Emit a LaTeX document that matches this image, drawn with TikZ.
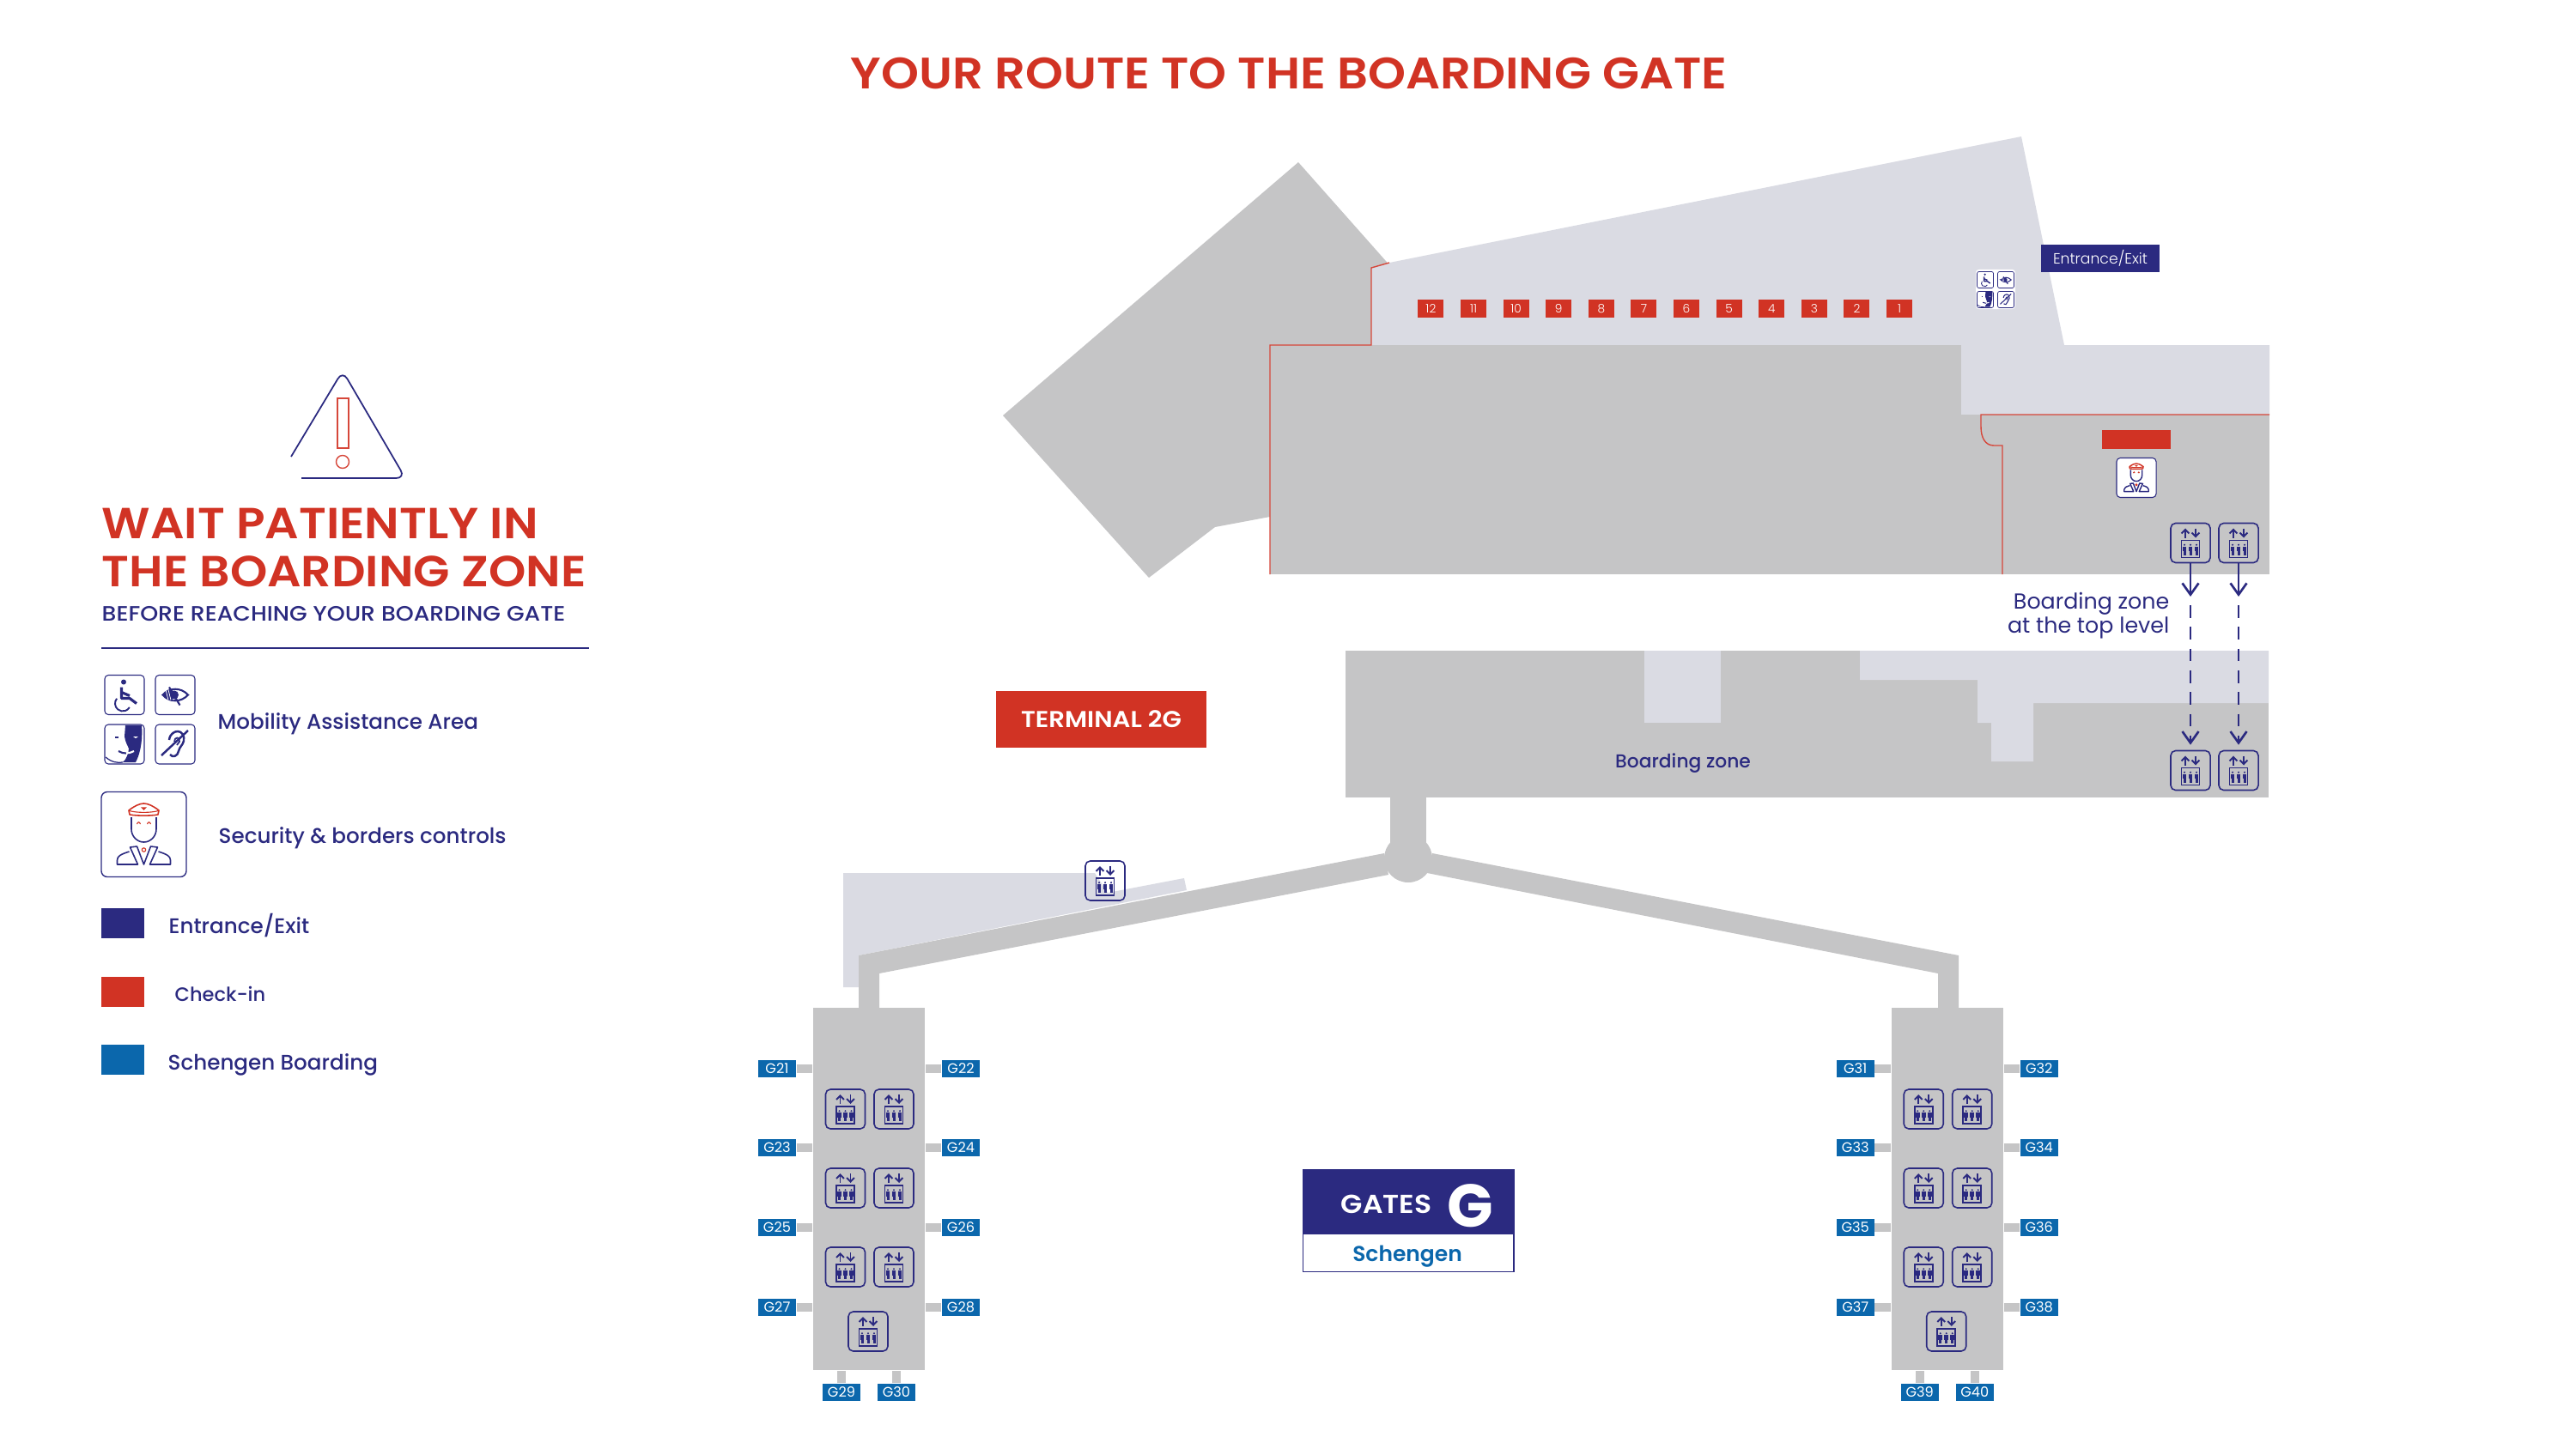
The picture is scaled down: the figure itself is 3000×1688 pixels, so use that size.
\documentclass[tikz,border=0pt]{standalone}
\usepackage{fontspec}
\setmainfont{Poppins}
\newfontfamily\semifont{Poppins SemiBold}
\newfontfamily\semiwide[FakeStretch=1.09]{Poppins SemiBold}
\newfontfamily\medfont{Poppins Medium}
\newfontfamily\medwide[FakeStretch=1.1]{Poppins Medium}
\newfontfamily\lightfont{Poppins Light}
\usetikzlibrary{arrows.meta}
\definecolor{navy}{HTML}{2B2A80}
\definecolor{redmark}{HTML}{D13324}
\definecolor{schengen}{HTML}{0B67AC}
\definecolor{darkzone}{HTML}{C5C5C6}
\definecolor{lightzone}{HTML}{DADBE3}
\def\fs#1{\fontsize{#1}{#1}\selectfont}
\def\lift(#1)(#2){\node[liftbox] (#1) at (#2) {}; \pic at (#2) {liftglyph};}
\tikzset{
	liftbox/.style={draw=navy, line width=0.45pt, rounded corners=1.6pt, minimum size=0.46cm, inner sep=0},
	iconbox/.style={draw=navy, line width=0.3pt, fill=white, rounded corners=1.2pt, minimum size=0.46cm, inner sep=0},
	zone/.style={fill=darkzone, inner sep=0},
	gatebox/.style={fill=schengen, text=white, minimum width=0.44cm, minimum height=0.2cm, inner sep=0, font=\fs{4.6}},
	gatebar/.style={darkzone, line width=0.1cm},
	checkbox/.style={fill=redmark, text=white, minimum width=0.3cm, minimum height=0.21cm, inner sep=0, font=\lightfont\fs{3.9}},
	legendsq/.style={minimum width=0.495cm, minimum height=0.35cm, inner sep=0},
	legendtext/.style={anchor=base west, inner sep=0, text=navy, font=\medfont\fs{7}},
	liftarrow/.style={navy, line width=0.75pt, -{Straight Barb[length=3.8pt,width=5.4pt]}},
	redline/.style={draw=redmark!90!white, line width=0.4pt},
	liftglyph/.pic={
		\draw[navy, line width=0.55pt, -{Straight Barb[length=1.3pt,width=2.5pt]}] (-6,-6) -- (-6,-17);
		\draw[navy, line width=0.55pt, -{Straight Barb[length=1.3pt,width=2.5pt]}] (6,-17) -- (6,-6);
		\draw[navy, line width=0.5pt] (-10.5,-3) rectangle (10.5,17);
		\foreach \px in {-7,0,7}{
			\fill[navy] (\px,2.2) circle (1.2);
			\fill[navy] (\px-2.3,4.2) rectangle (\px+2.3,9.5);
			\fill[navy] (\px-1.5,9.5) rectangle (\px+1.5,14);
		}
	},
	wheelglyph/.pic={
		\fill[navy] (-1,-15) circle (3);
		\draw[navy, line width=#1, line join=round] (-3.5,-9) -- (-3.5,4) -- (6,4) -- (14,10);
		\draw[navy, line width=#1] (-3.5,-3) -- (6,1);
		\draw[navy, line width=0.6*#1] (-8.9,4.2) arc (220:30:9);
	},
	eyeglyph/.pic={
		\draw[navy, line width=#1] (-14.5,0) .. controls (-7,-9) and (7,-9) .. (15,0) .. controls (7,9) and (-7,9) .. cycle;
		\fill[navy] (-14.5,0) .. controls (-9,-6) and (-5,-7) .. (-3,-7) -- (-3,7) .. controls (-5,7) and (-9,6) .. cycle;
		\foreach \hx in {-11,-8,-5}{
			\draw[white, line width=0.4*#1] (\hx,-6) -- (\hx+3,6);
		}
		\fill[navy] (-1,0) circle (5);
		\draw[navy, line width=#1] (-7,-9) -- (5.5,12);
	},
	faceglyph/.pic={
		\fill[navy] (1,-22) -- (20,-22) .. controls (21,-10) and (20,8) .. (13,21) -- (-2,21) .. controls (2,18) and (5,10) .. (5,5) .. controls (4,2) and (1,-2) .. (0,-9) -- cycle;
		\fill[white] (10,-9) -- (16,-9) -- (13,-7) -- cycle;
		\draw[navy, line width=#1] (-11,-8) -- (-7,-8);
		\draw[navy, line width=#1] (-7,8) .. controls (-4,10) and (-1,10.5) .. (2,10.5);
		\draw[white, line width=#1] (2,10.5) .. controls (5,10.5) and (8,9.5) .. (11,8);
		\draw[navy, line width=0.6*#1] (-22,15) .. controls (-15,21) and (-8,22) .. (-2,21);
	},
	earglyph/.pic={
		\draw[navy, line width=#1] (-7,-5) .. controls (-6,-13) and (0,-15) .. (3,-15) .. controls (8,-15) and (11,-10) .. (10,-4) .. controls (9,1) and (5,3) .. (4,8) .. controls (3,14) and (-3,16) .. (-6,12);
		\draw[navy, line width=0.7*#1] (-1,-3) .. controls (-1,-9) and (6,-9) .. (5,-3) -- (2,1);
		\draw[navy, line width=#1] (15,-16) -- (-16,13);
	},
	guardglyph/.pic={
		\draw[redmark, line width=#1, line join=round] (-17.5,-28) .. controls (-11,-33) and (-5,-36) .. (0,-36) .. controls (5,-36) and (11,-33) .. (17.5,-28) -- (16.5,-23) .. controls (8,-21.5) and (-8,-21.5) .. (-16.5,-23) -- cycle;
		\draw[redmark, line width=0.7*#1] (-17,-27.5) .. controls (-8,-25) and (8,-25) .. (17,-27.5);
		\draw[redmark, line width=0.7*#1] (-2,-31) -- (2,-31) -- (0,-29) -- cycle;
		\draw[redmark, line width=0.7*#1] (-8,-12) .. controls (-7,-15) and (-5,-15) .. (-4,-12);
		\draw[redmark, line width=0.7*#1] (4,-12) .. controls (5,-15) and (7,-15) .. (8,-12);
		\draw[redmark, line width=0.7*#1] (0,18) circle (2.2);
		\draw[navy, line width=#1] (-14.5,-20) -- (-14.5,-6) .. controls (-14.5,2) and (-8,9) .. (0,9) .. controls (8,9) and (14.5,2) .. (14.5,-6) -- (14.5,-20);
		\draw[navy, line width=#1, line join=round] (-17,20) .. controls (-26,23) and (-31,25) .. (-31,30) -- (-31,35) -- (-7,35) -- (-16,15) -- (-8,14) -- (0,35) -- (8,14) -- (16,15) -- (7,35) -- (31,35) -- (31,30) .. controls (31,25) and (26,23) .. (17,20);
	},
}
\begin{document}
\begin{tikzpicture}[x=0.01cm, y=-0.01cm]
	\useasboundingbox (0,0) rectangle (3000,1688);

	%%%%% TITLE %%%%%
	\node[anchor=base, inner sep=0, text=redmark, font=\semiwide\fs{14.6}] (title) at (1501,104) {YOUR ROUTE TO THE BOARDING GATE};

	%%%%% LEGEND %%%%%
	\draw[navy, line width=0.5pt, rounded corners=3pt] (339,532) -- (399,432) -- (472,557) -- (351,557);
	\draw[redline] (393,464) rectangle (406,522);
	\draw[redline] (399,538) circle (7.5);

	\node[anchor=base west, inner sep=0, text=redmark, font=\semiwide\fs{14.4}] (waitline) at (118,627) {WAIT PATIENTLY IN};
	\node[anchor=base west, inner sep=0, text=redmark, font=\semiwide\fs{14.4}] (zoneline) at (118,683) {THE BOARDING ZONE};
	\node[anchor=base west, inner sep=0, text=navy, font=\medwide\fs{6.9}] (before) at (118,723) {BEFORE REACHING YOUR BOARDING GATE};
	\draw[navy, line width=0.7pt] (118,755) -- (686,755);

	\node[iconbox] (wheel) at (145,809.5) {};
	\node[iconbox] (eye) at (204,809.5) {};
	\node[iconbox] (face) at (145,867) {};
	\node[iconbox] (ear) at (204,867) {};
	\pic at (145,809.5) {wheelglyph=0.9pt};
	\pic at (204,809.5) {eyeglyph=0.6pt};
	\pic at (145,867) {faceglyph=0.6pt};
	\pic at (204,867) {earglyph=0.7pt};
	\node[legendtext] (mobility) at (253,849) {Mobility Assistance Area};

	\node[iconbox, minimum size=0.99cm, rounded corners=2pt, line width=0.4pt] (guard) at (167.5,972) {};
	\pic at (167.5,972) {guardglyph=0.45pt};
	\node[legendtext] (security) at (254,982) {Security \& borders controls};

	\node[legendsq, fill=navy] (sqentry) at (142.75,1075.5) {};
	\node[legendsq, fill=redmark] (sqcheck) at (142.75,1155.5) {};
	\node[legendsq, fill=schengen] (sqboard) at (142.75,1234.5) {};
	\node[legendtext] (txtentry) at (196,1087) {Entrance/Exit};
	\node[legendtext, font=\medfont\fs{6.4}] (txtcheck) at (203,1166) {Check-in};
	\node[legendtext] (txtboard) at (195,1246) {Schengen Boarding};

	%%%%% UPPER LEVEL %%%%%
	\fill[darkzone] (1512,189) -- (1621,312) -- (1597,402) -- (1479,602) -- (1415,614) -- (1338,673) -- (1168,484) -- cycle;
	\fill[lightzone] (1618,306) -- (2354,159) -- (2404,402) -- (2643,402) -- (2643,483) -- (2284,483) -- (2284,402) -- (1597,402) -- (1597,312) -- cycle;
	\fill[darkzone] (1479,402) rectangle (2284,669);
	\fill[darkzone] (2284,483) rectangle (2643,669);
	\draw[redline] (1618,306) -- (1597,312) -- (1597,402) -- (1479,402) -- (1479,669);
	\draw[redline] (2643,483) -- (2307,483) -- (2307,497) .. controls (2307,510) and (2312,519) .. (2322,519) -- (2332,519) -- (2332,669);

	\foreach \n in {1,...,12}{
		\node[checkbox] (check\n) at ({2212-(\n-1)*49.6},359.5) {\n};
	}
	\node[fill=redmark, minimum width=0.8cm, minimum height=0.22cm, inner sep=0] (checkbar) at (2488,512) {};
	\node[fill=navy, text=white, minimum width=1.38cm, minimum height=0.32cm, inner sep=0, font=\lightfont\fs{4.9}] (entrance) at (2446,301) {Entrance/Exit};

	\node[fill=white, rounded corners=1pt, minimum size=0.46cm, inner sep=0] (assist) at (2324,337) {};
	\begin{scope}[every node/.style={iconbox, minimum size=0.19cm, rounded corners=0.6pt, line width=0.2pt}]
		\node (wheelB) at (2312,326) {};
		\node (eyeB) at (2336,326) {};
		\node (faceB) at (2312,349) {};
		\node (earB) at (2336,349) {};
	\end{scope}
	\pic[scale=0.41] at (2312,326) {wheelglyph=0.4pt};
	\pic[scale=0.41] at (2336,326) {eyeglyph=0.3pt};
	\pic[scale=0.41] at (2312,349) {faceglyph=0.3pt};
	\pic[scale=0.41] at (2336,349) {earglyph=0.3pt};

	\node[iconbox] (guardB) at (2488,556.5) {};
	\pic[scale=0.46] at (2488,556.5) {guardglyph=0.4pt};

	%%%%% LOWER LEVEL %%%%%
	\fill[darkzone] (1567,758) rectangle (2642,929);
	\fill[lightzone] (1915,758) rectangle (2004,842);
	\fill[lightzone] (2166,758) -- (2642,758) -- (2642,819) -- (2368,819) -- (2368,887) -- (2319,887) -- (2319,842) -- (2303,842) -- (2303,792) -- (2166,792) -- cycle;
	\node[anchor=base, inner sep=0, text=navy, font=\medfont\fs{6.2}] (boardzone) at (1960,894) {Boarding zone};

	\node[anchor=base east, align=right, inner sep=0, text=navy, font=\fontsize{7.2}{7.7}\selectfont] (toplevel) at (2527,737) {Boarding zone\\at the top level};

	\lift(topA)(2551,632.5)
	\lift(topB)(2607,632.5)
	\lift(botA)(2551,897.5)
	\lift(botB)(2607,897.5)
	\coordinate (gapA) at (2551,705);
	\coordinate (gapB) at (2607,705);
	\draw[liftarrow, shorten >=0.1cm] (topA) -- (gapA);
	\draw[liftarrow, shorten >=0.1cm] (topB) -- (gapB);
	\draw[liftarrow, dash pattern=on 4.2pt off 3pt, shorten >=0.06cm] (gapA) -- (botA.north);
	\draw[liftarrow, dash pattern=on 4.2pt off 3pt, shorten >=0.06cm] (gapB) -- (botB.north);

	\node[fill=redmark, text=white, minimum width=2.45cm, minimum height=0.65cm, inner sep=0, font=\semiwide\fs{7.6}] (terminal) at (1282.5,838) {TERMINAL 2G};

	%%%%% BRIDGES %%%%%
	\fill[lightzone] (982,1017) -- (1275,1017) -- (1290,1040) -- (1379,1023) -- (1382,1037) -- (1000,1113) -- (1000,1150) -- (982,1150) -- cycle;
	\fill[darkzone] (1619,929) rectangle (1661,1000);
	\fill[darkzone] (1640,1000) circle (28);
	\fill[darkzone] (1612,994) -- (1000,1113) -- (1000,1174) -- (1024,1174) -- (1024,1134) -- (1617,1019) -- cycle;
	\fill[darkzone] (1668,994) -- (2281,1113) -- (2281,1174) -- (2257,1174) -- (2257,1134) -- (1662,1017) -- cycle;
	\lift(liftW)(1287,1026)

	%%%%% PIERS %%%%%
	\foreach \side/\dx/\gn in {L/0/20,R/12.55/30}{
		\begin{scope}[xshift=\dx cm]
			\node[zone, minimum width=1.3cm, minimum height=4.22cm] (pier\side) at (1012,1385) {};
			\foreach \i/\y in {1/1245,2/1337,3/1430,4/1523}{
				\pgfmathtruncatemacro\gl{\gn+2*\i-1}
				\pgfmathtruncatemacro\gr{\gn+2*\i}
				\node[gatebox] (g\gl) at (905,\y) {G\gl};
				\node[gatebox] (g\gr) at (1119,\y) {G\gr};
				\draw[gatebar] (g\gl.east) -- (g\gl.east -| pier\side.west);
				\draw[gatebar] (g\gr.west) -- (g\gr.west -| pier\side.east);
			}
			\pgfmathtruncatemacro\gl{\gn+9}
			\pgfmathtruncatemacro\gr{\gn+10}
			\node[gatebox] (g\gl) at (980,1622) {G\gl};
			\node[gatebox] (g\gr) at (1044,1622) {G\gr};
			\draw[gatebar] (g\gl.north) -- (g\gl.north |- pier\side.south);
			\draw[gatebar] (g\gr.north) -- (g\gr.north |- pier\side.south);
			\foreach \y in {1292,1384,1476}{
				\lift(a\side\y)(984.5,\y)
				\lift(b\side\y)(1041,\y)
			}
			\lift(c\side)(1011,1551)
		\end{scope}
	}

	%%%%% GATES SIGN %%%%%
	\node[draw=navy, fill=navy, line width=0.4pt, anchor=north west, minimum width=2.45cm, minimum height=0.75cm, inner sep=0] (gateshead) at (1517,1362) {};
	\node[draw=navy, fill=white, line width=0.4pt, anchor=north west, minimum width=2.45cm, minimum height=0.44cm, inner sep=0] (gatesfoot) at (1517,1437) {};
	\node[anchor=base west, inner sep=0, text=white, font=\semiwide\fs{8.6}] (gatesword) at (1561,1413) {GATES};
	\node[anchor=base west, inner sep=0, text=white, font=\bfseries\fs{20}] (gatesletter) at (1685,1429) {G};
	\node[anchor=base, inner sep=0, text=schengen, font=\semifont\fs{7.1}] (schword) at (1639,1469) {Schengen};
\end{tikzpicture}
\end{document}
